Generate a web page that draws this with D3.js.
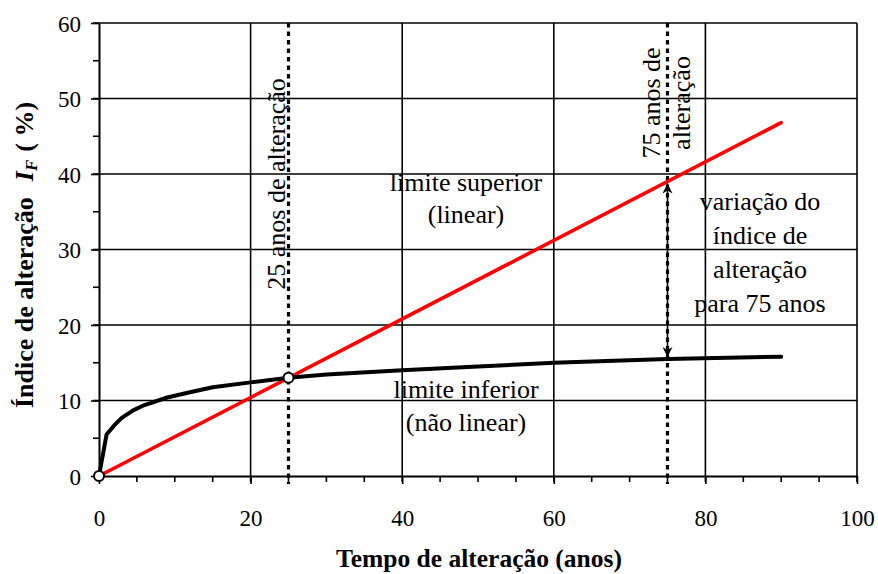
<!DOCTYPE html>
<html>
<head>
<meta charset="utf-8">
<script src="https://cdn.jsdelivr.net/npm/d3@7"></script>
<style>
  html, body { margin: 0; padding: 0; background: #fff; }
  svg { display: block; font-family: "Liberation Serif", "Times New Roman", serif; }
</style>
</head>
<body>
<svg id="chart" width="878" height="574"></svg>
<script>
// Weathering index curves: linear upper bound vs. non-linear lower bound
const lowerYears = [0, 1, 2, 3, 4.5, 6, 9, 12, 15, 20, 25, 30, 40, 50, 60, 75, 90];
const lowerIndex = [0, 5.5, 6.7, 7.7, 8.7, 9.4, 10.4, 11.1, 11.75, 12.4, 13, 13.45, 14, 14.5, 15, 15.5, 15.8];
const upperYears = [0, 90];
const upperIndex = [0, 46.8];
const markerYears = [0, 25];
const markerIndex = [0, 13];
const referenceYears = [25, 75];
const xTicks = [0, 20, 40, 60, 80, 100];
const yTicks = [0, 10, 20, 30, 40, 50, 60];
const xMinorTicks = d3.range(0, 101, 5);
const yMinorTicks = d3.range(0, 61, 5);
const arrowYear = 75;
const arrowUpper = 39;
const arrowLower = 15.5;

const svg = d3.select("#chart");
const margin = { left: 99, right: 21, top: 23, bottom: 98 };
const W = 878, H = 574;

const x = d3.scaleLinear().domain([0, 100]).range([margin.left, W - margin.right]);
const y = d3.scaleLinear().domain([0, 60]).range([H - margin.bottom, margin.top]);

// Grid
const grid = svg.append("g").attr("stroke", "#000").attr("stroke-width", 1.6);
grid.selectAll("line.h").data(yTicks.filter(d => d > 0)).join("line")
  .attr("x1", x(0)).attr("x2", x(100)).attr("y1", d => y(d)).attr("y2", d => y(d));
grid.selectAll("line.v").data(xTicks.filter(d => d > 0)).join("line")
  .attr("y1", y(0)).attr("y2", y(60)).attr("x1", d => x(d)).attr("x2", d => x(d));

// Minor ticks
const minor = svg.append("g").attr("stroke", "#000").attr("stroke-width", 1.6);
minor.selectAll("line.mx").data(xMinorTicks).join("line")
  .attr("x1", d => x(d)).attr("x2", d => x(d)).attr("y1", y(0)).attr("y2", y(0) + 6);
minor.selectAll("line.my").data(yMinorTicks).join("line")
  .attr("y1", d => y(d)).attr("y2", d => y(d)).attr("x1", x(0)).attr("x2", x(0) - 6);

// Axes
const xAxis = svg.append("g").attr("transform", `translate(0,${y(0)})`)
  .call(d3.axisBottom(x).tickValues(xTicks).tickSize(8).tickPadding(10).tickSizeOuter(0));
const yAxis = svg.append("g").attr("transform", `translate(${x(0)},0)`)
  .call(d3.axisLeft(y).tickValues(yTicks).tickSize(8).tickPadding(10).tickSizeOuter(0));
[xAxis, yAxis].forEach(a => {
  a.select(".domain").attr("stroke", "#000").attr("stroke-width", 2);
  a.selectAll(".tick line").attr("stroke", "#000").attr("stroke-width", 1.6);
  a.selectAll(".tick text").attr("fill", "#000")
    .style("font-family", "'Liberation Serif', serif").style("font-size", "23px");
});
xAxis.selectAll(".tick text").attr("dy", null).attr("y", 50);
yAxis.selectAll(".tick text").attr("x", -18).attr("dy", "0.35em");

// Reference (dotted) lines
svg.append("g").selectAll("line").data(referenceYears).join("line")
  .attr("x1", d => x(d)).attr("x2", d => x(d)).attr("y1", y(60)).attr("y2", y(0) + 8)
  .attr("stroke", "#000").attr("stroke-width", 3.2).attr("stroke-dasharray", "4.5,4");

// Curves
const line = d3.line().x(d => x(d[0])).y(d => y(d[1]));
svg.append("path").datum(upperYears.map((d, i) => [d, upperIndex[i]]))
  .attr("d", line).attr("fill", "none").attr("stroke", "#ff0000").attr("stroke-width", 3.6)
  .attr("stroke-linecap", "round");
svg.append("path").datum(lowerYears.map((d, i) => [d, lowerIndex[i]]))
  .attr("d", line).attr("fill", "none").attr("stroke", "#000").attr("stroke-width", 4)
  .attr("stroke-linecap", "round").attr("stroke-linejoin", "round");

// Double arrow showing the spread at 75 years
const defs = svg.append("defs");
defs.append("marker").attr("id", "head").attr("viewBox", "0 0 10 10")
  .attr("refX", 10).attr("refY", 5).attr("markerWidth", 10).attr("markerHeight", 10)
  .attr("markerUnits", "userSpaceOnUse").attr("orient", "auto-start-reverse")
  .append("path").attr("d", "M0,0 L10,5 L0,10 L3,5 Z").attr("fill", "#000");
svg.append("line")
  .attr("x1", x(arrowYear)).attr("x2", x(arrowYear))
  .attr("y1", y(arrowUpper) + 2).attr("y2", y(arrowLower) - 2)
  .attr("stroke", "#000").attr("stroke-width", 1.6)
  .attr("marker-start", "url(#head)").attr("marker-end", "url(#head)");

// Markers
svg.append("g").selectAll("circle").data(markerYears).join("circle")
  .attr("cx", d => x(d)).attr("cy", (d, i) => y(markerIndex[i])).attr("r", 5)
  .attr("fill", "#fff").attr("stroke", "#000").attr("stroke-width", 2);

// Annotations
const ann = svg.append("g").attr("fill", "#000").style("font-size", "26px");
ann.append("text").attr("transform", `translate(285,${184}) rotate(-90)`)
  .attr("text-anchor", "middle").text("25 anos de alteração");
ann.append("text").attr("transform", `translate(660,${103}) rotate(-90)`)
  .attr("text-anchor", "middle").text("75 anos de");
ann.append("text").attr("transform", `translate(690,${103}) rotate(-90)`)
  .attr("text-anchor", "middle").text("alteração");
ann.append("text").attr("x", 466).attr("y", 191).attr("text-anchor", "middle").text("limite superior");
ann.append("text").attr("x", 466).attr("y", 223).attr("text-anchor", "middle").text("(linear)");
ann.append("text").attr("x", 466).attr("y", 398).attr("text-anchor", "middle").text("limite inferior");
ann.append("text").attr("x", 466).attr("y", 431).attr("text-anchor", "middle").text("(não linear)");
const rightLines = ["variação do", "índice de", "alteração", "para 75 anos"];
ann.selectAll("text.r").data(rightLines).join("text")
  .attr("x", 760).attr("y", (d, i) => 210 + i * 34).attr("text-anchor", "middle").text(d => d);

// Axis titles
svg.append("text").attr("x", 479).attr("y", 567).attr("text-anchor", "middle")
  .attr("font-weight", "bold").style("font-size", "25.5px").text("Tempo de alteração (anos)");
const yt = svg.append("text").attr("transform", "translate(33,255) rotate(-90)")
  .attr("text-anchor", "middle").attr("font-weight", "bold").style("font-size", "26px");
yt.append("tspan").text("Índice de alteração");
yt.append("tspan").attr("dx", 16).attr("font-style", "italic").text("I");
yt.append("tspan").attr("font-style", "italic").style("font-size", "17px").attr("dy", 4).text("F");
yt.append("tspan").attr("dy", -4).attr("dx", 8).text("( %)");
</script>
</body>
</html>
